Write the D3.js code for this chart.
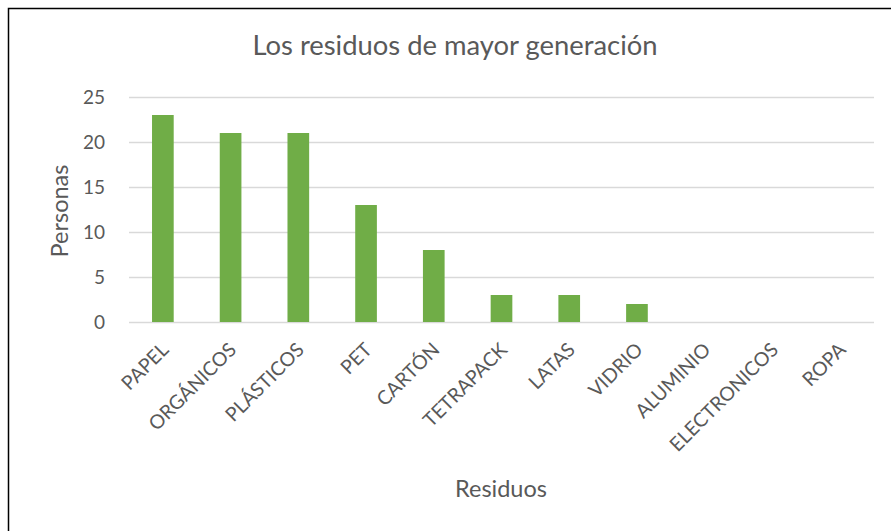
<!DOCTYPE html>
<html><head><meta charset="utf-8">
<script src="https://cdn.jsdelivr.net/npm/d3@7"></script>
<style>body{margin:0;background:#fff}svg{display:block}text{font-family:Lato,"Open Sans",sans-serif}</style>
</head><body><svg id="c" width="891" height="531"></svg>
<script>
const categories = ["PAPEL","ORGÁNICOS","PLÁSTICOS","PET","CARTÓN","TETRAPACK","LATAS","VIDRIO","ALUMINIO","ELECTRONICOS","ROPA"];
const values = [23,21,21,13,8,3,3,2,0,0,0];
const yTicks = [0,5,10,15,20,25];
const title = "Los residuos de mayor generación";
const xTitle = "Residuos";
const yTitle = "Personas";

const svg = d3.select("#c");
svg.append("rect").attr("x",8.5).attr("y",8.5).attr("width",900).attr("height",540)
  .attr("fill","#fff").attr("stroke","#000").attr("stroke-width",1.5);

const m = {l:129, r:874, t:97, b:322};
const x = d3.scaleBand().domain(categories).range([m.l,m.r]).paddingInner(0.68).paddingOuter(0.34);
const y = d3.scaleLinear().domain([0,25]).range([m.b,m.t]);

const grid = svg.append("g");
grid.selectAll("line").data(yTicks).join("line")
  .attr("x1",m.l).attr("x2",m.r).attr("y1",d=>y(d)+0.5).attr("y2",d=>y(d)+0.5)
  .attr("stroke","#d9d9d9").attr("stroke-width",1.3);

svg.append("g").selectAll("rect").data(values).join("rect")
  .attr("x",(d,i)=>x(categories[i])).attr("width",x.bandwidth())
  .attr("y",d=>y(d)).attr("height",d=>y(0)-y(d)).attr("fill","#70ad47");

const ya = svg.append("g").attr("transform",`translate(${m.l},0)`)
  .call(d3.axisLeft(y).tickValues(yTicks).tickSize(0).tickPadding(24));
ya.select(".domain").remove();
ya.selectAll("text").attr("fill","#595959").style("font-size","19px").style("font-family","Lato");

const xa = svg.append("g").attr("transform",`translate(0,${m.b})`)
  .call(d3.axisBottom(x).tickSize(0));
xa.select(".domain").remove();
xa.selectAll("text").attr("fill","#595959").style("font-size","19.5px").style("font-family","Lato")
  .attr("text-anchor","end").attr("dy",null).attr("y",0)
  .attr("transform","translate(7,29) rotate(-45)");

svg.append("text").attr("x",455).attr("y",55).attr("text-anchor","middle")
  .attr("fill","#595959").style("font-size","27.4px").text(title);
svg.append("text").attr("x",501).attr("y",497).attr("text-anchor","middle")
  .attr("fill","#595959").style("font-size","23.5px").text(xTitle);
svg.append("text").attr("transform","translate(68,211) rotate(-90)").attr("text-anchor","middle")
  .attr("fill","#595959").style("font-size","23.5px").text(yTitle);
</script></body></html>
